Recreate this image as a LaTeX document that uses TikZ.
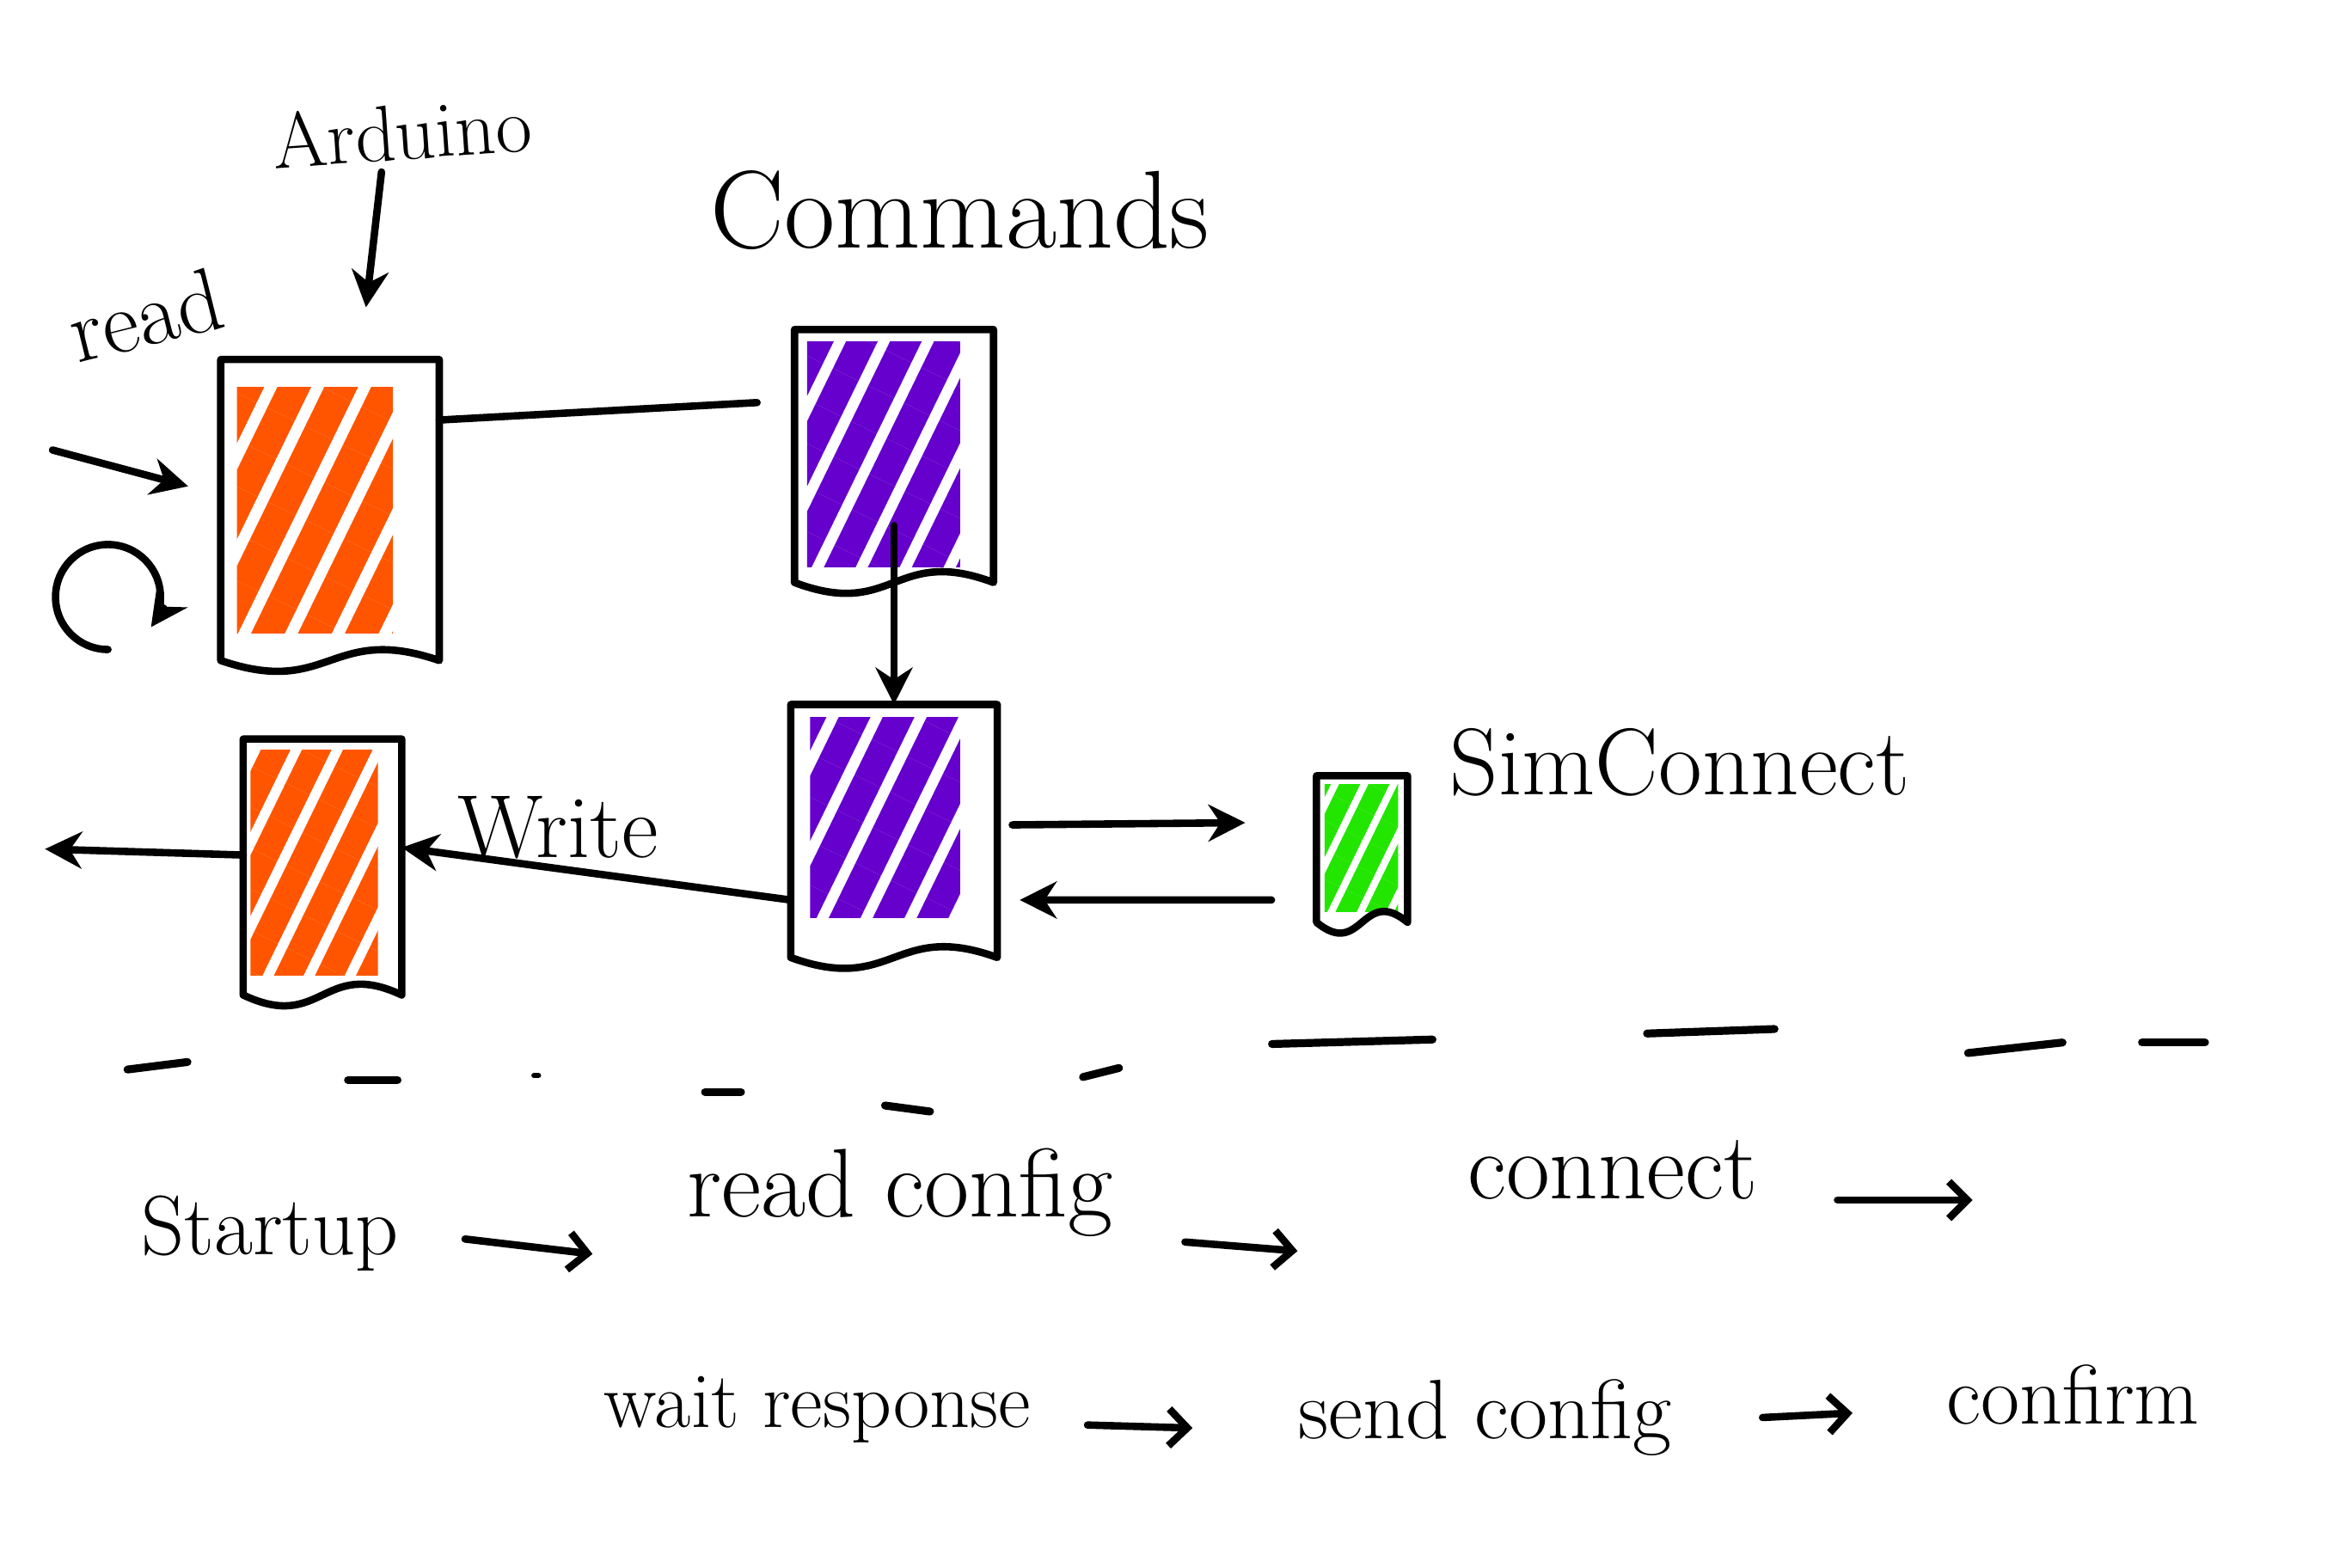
\documentclass[tikz,border=0pt]{standalone}
\usetikzlibrary{arrows.meta,calc,patterns.meta}
\definecolor{ornC}{HTML}{FF5500}
\definecolor{purC}{HTML}{6600CC}
\definecolor{grnC}{HTML}{22E600}
\tikzset{
  ink/.style={line width=2.8pt,line cap=round,line join=round},
  arr/.style={ink,-{Stealth[length=14pt,width=14pt]}},
  barb/.style={ink,-{Straight Barb[length=7pt,width=14pt]}},
  boxn/.style={inner sep=0pt,draw=none},
  lbl/.style={inner sep=0pt,font=\fontsize{#1}{#1}\selectfont},
  scribble/.style 2 args={pattern={Lines[angle=64,distance=#2,line width=0.72*#2]},pattern color=#1}
}
\newcommand\docshape[1]{\draw[ink] (#1.north west) -- (#1.north east) -- (#1.south east)
  .. controls ($(#1.south)+(0,0.5cm)$) and ($(#1.south)+(0,-0.5cm)$) .. (#1.south west) -- cycle;}
\begin{document}
\begin{tikzpicture}[x=0.02cm,y=-0.02cm]
\useasboundingbox[fill=white] (0,0) rectangle (1568,1045);

% boxes
\node[boxn,minimum width=2.9cm,minimum height=4cm] (ob1) at (220,340) {};
\node[boxn,minimum width=2.64cm,minimum height=3.36cm] (pb1) at (596,304) {};
\node[boxn,minimum width=2.74cm,minimum height=3.36cm] (pb2) at (596,554) {};
\node[boxn,minimum width=2.1cm,minimum height=3.4cm] (ob2) at (215,578) {};
\node[boxn,minimum width=1.2cm,minimum height=1.94cm] (gb) at (908,566) {};

% scribbled fills
\fill[scribble={ornC}{16pt}] (158,258) rectangle (262,422);
\fill[scribble={purC}{15pt}] (538,228) rectangle (640,378);
\fill[scribble={purC}{15pt}] (540,478) rectangle (640,612);
\fill[scribble={ornC}{14pt}] (167,500) rectangle (252,650);
\fill[scribble={grnC}{10pt}] (883,523) rectangle (932,608);

\docshape{ob1}
\docshape{pb1}
\docshape{pb2}
\docshape{ob2}
\docshape{gb}

% labels
\node[lbl=30,rotate=4] (lard) at (268,88) {Arduino};
\node[lbl=34,rotate=14] (lread) at (97,210) {read};
\node[lbl=42] (lcmd) at (640,140) {Commands};
\node[lbl=34] (lwrite) at (372,552) {Write};
\node[lbl=36] (lsim) at (1120,508) {SimConnect};

% connectors
\draw[arr,shorten >=0.7cm] ([xshift=-0.3cm,yshift=-0.15cm]lard.south) -- ([xshift=0.4cm]ob1.north);
\coordinate (rdS) at (35,300);
\draw[arr,shorten >=0.45cm] (rdS) -- ([yshift=0.2cm]ob1.west);
\draw[arr] (72,433) arc[start angle=270,end angle=-35,radius=0.7cm];
\draw[ink,shorten >=0.5cm] ([yshift=1.2cm]ob1.east) -- ([yshift=0.74cm]pb1.west);
\draw[arr] ($(pb1.south)+(0,0.76cm)$) -- (pb2.north);
\draw[arr] ([yshift=-0.92cm]pb2.west) -- ([yshift=0.26cm]ob2.east);
\coordinate (outL) at (30,566);
\draw[arr] ([yshift=0.16cm]ob2.west) -- (outL);
\draw[arr,shorten <=0.2cm,shorten >=0.95cm] ([yshift=0.08cm]pb2.east) -- ([yshift=0.36cm]gb.west);
\draw[arr,shorten <=0.6cm,shorten >=0.3cm] ([yshift=-0.68cm]gb.west) -- ([yshift=-0.92cm]pb2.east);

% dashed divider
\draw[ink,line width=3pt] (85,713) -- (125,708);
\draw[ink,line width=3pt] (232,720) -- (265,720);
\draw[ink,line width=2pt] (356,717) -- (359,717);
\draw[ink,line width=3pt] (470,728) -- (494,728);
\draw[ink,line width=3pt] (590,737) -- (620,741);
\draw[ink,line width=3pt] (722,718) -- (746,712);
\draw[ink,line width=3pt] (848,696) -- (955,693);
\draw[ink,line width=3pt] (1098,689) -- (1183,686);
\draw[ink,line width=3pt] (1312,702) -- (1375,695);
\draw[ink,line width=3pt] (1428,695) -- (1470,695);

% process text
\node[lbl=32] (tstart) at (180,822) {Startup};
\node[lbl=37] (tread) at (600,795) {read config};
\node[lbl=36] (tconn) at (1075,780) {connect};
\coordinate (cEnd) at (1315,800);
\node[lbl=30] (twait) at (545,940) {wait response};
\node[lbl=32] (tsend) at (990,945) {send config};
\node[lbl=32] (tconf) at (1382,930) {confirm};

\draw[barb] (310,826) -- (395,836);
\draw[barb] (790,828) -- (865,834);
\draw[barb] (1225,800) -- (cEnd);
\draw[barb] (725,950) -- (795,952);
\draw[barb] (1175,945) -- (1235,942);
\end{tikzpicture}
\end{document}
